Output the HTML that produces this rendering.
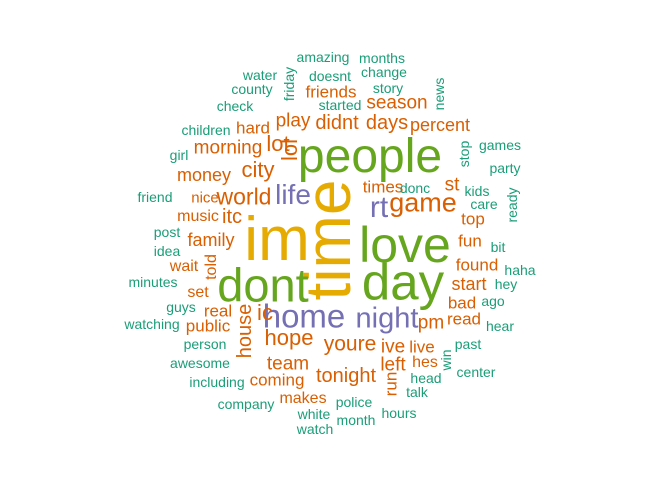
<!DOCTYPE html>
<html><head><meta charset="utf-8"><style>
html,body{margin:0;padding:0;background:#fff;}
#cloud{position:relative;width:672px;height:480px;overflow:hidden;font-family:"Liberation Sans",Arial,sans-serif;}
#cloud span{position:absolute;line-height:1;white-space:nowrap;}
</style></head><body>
<div id="cloud"></div>
<script>
const C={t:'#1B9E77',o:'#D95F02',p:'#7570B3',g:'#66A61E',y:'#E6AB02'};
// word, center x, center y, font size, color, vertical
const words=[
['time',334,240,64,'y',1],['im',277,238,62,'y',0],['people',370,155,48,'g',0],['love',405,243,50,'g',0],
['day',403,280,51,'g',0],['dont',263,283,47,'g',0],['home',304,315,33,'p',0],['night',387,318,29,'p',0],
['life',293,194,28,'p',0],['rt',379,207,30,'p',0],['game',423,202,27,'o',0],['hope',289,337,22,'o',0],
['youre',350,343,21,'o',0],['tonight',346,375,20,'o',0],['city',258,169,22,'o',0],['world',244,196,23,'o',0],
['lol',292,150,22,'o',1],['lot',278,143,22,'o',0],['didnt',337,122,20,'o',0],['days',387,122,20,'o',0],
['percent',440,124,18,'o',0],['season',397,102,19,'o',0],['friends',331,91,17,'o',0],['play',293,120,19,'o',0],
['hard',253,127,17,'o',0],['morning',228,147,19,'o',0],['money',204,174,18,'o',0],['nice',205,197,15,'o',0],
['music',198,216,16,'o',0],['itc',232,216,20,'o',0],['family',211,239,18,'o',0],['wait',184,266,16,'o',0],
['told',213,267,16,'o',1],['set',198,292,16,'o',0],['real',218,310,17,'o',0],['public',208,325,17,'o',0],
['house',247,331,20,'o',1],['ic',265,312,22,'o',0],['team',288,363,19,'o',0],['coming',277,379,17,'o',0],
['makes',303,398,16,'o',0],['times',383,186,17,'o',0],['st',452,184,19,'o',0],['top',473,218,17,'o',0],
['fun',470,240,17,'o',0],['found',477,264,17,'o',0],['start',469,283,18,'o',0],['bad',462,302,17,'o',0],
['read',464,318,17,'o',0],['pm',431,322,19,'o',0],['ive',393,346,19,'o',0],['live',422,346,17,'o',0],
['left',393,364,19,'o',0],['run',393,384,17,'o',1],['hes',425,362,16,'o',0],
['amazing',323,56,14,'t',0],['months',382,57,14,'t',0],['water',260,74,14,'t',0],['doesnt',330,75,14,'t',0],
['change',384,71,14,'t',0],['county',252,88,14,'t',0],['story',388,87,14,'t',0],['friday',290,84,14,'t',1],
['news',440,94,14,'t',1],['check',235,105,14,'t',0],['started',340,104,14,'t',0],['children',206,129,14,'t',0],
['games',500,144,14,'t',0],['girl',179,154,14,'t',0],['stop',465,154,14,'t',1],['party',505,167,14,'t',0],
['friend',155,196,14,'t',0],['donc',415,187,14,'t',0],['kids',477,190,14,'t',0],['care',484,203,14,'t',0],
['ready',513,205,14,'t',1],['post',167,231,14,'t',0],['idea',167,250,14,'t',0],['bit',498,246,14,'t',0],
['minutes',153,281,14,'t',0],['haha',520,269,14,'t',0],['guys',181,306,14,'t',0],['hey',506,283,14,'t',0],
['ago',493,300,14,'t',0],['watching',152,323,14,'t',0],['hear',500,325,14,'t',0],['person',205,343,14,'t',0],
['past',468,343,14,'t',0],['awesome',200,362,14,'t',0],['win',447,360,14,'t',1],['center',476,371,14,'t',0],
['including',217,381,14,'t',0],['head',426,377,14,'t',0],['company',246,403,14,'t',0],['talk',417,391,14,'t',0],
['police',354,401,14,'t',0],['hours',399,412,14,'t',0],['white',314,413,14,'t',0],['month',356,419,14,'t',0],
['watch',315,428,14,'t',0]
];
const cloud=document.getElementById('cloud');
words.forEach(w=>{
  const s=document.createElement('span');
  
  
  s.textContent=w[0];
  s.style.fontSize=w[3]+'px';
  s.style.color=C[w[4]];
  if(w[5]){
    s.style.left=(w[1]-0.09*w[3])+'px';s.style.top=w[2]+'px';
    s.style.transform='translate(-50%,-50%) rotate(-90deg)';
  }else{
    s.style.left=w[1]+'px';s.style.top=(w[2]+0.04*w[3])+'px';
    s.style.transform='translate(-50%,-50%)';
  }
  cloud.appendChild(s);
});
</script>
</body></html>
